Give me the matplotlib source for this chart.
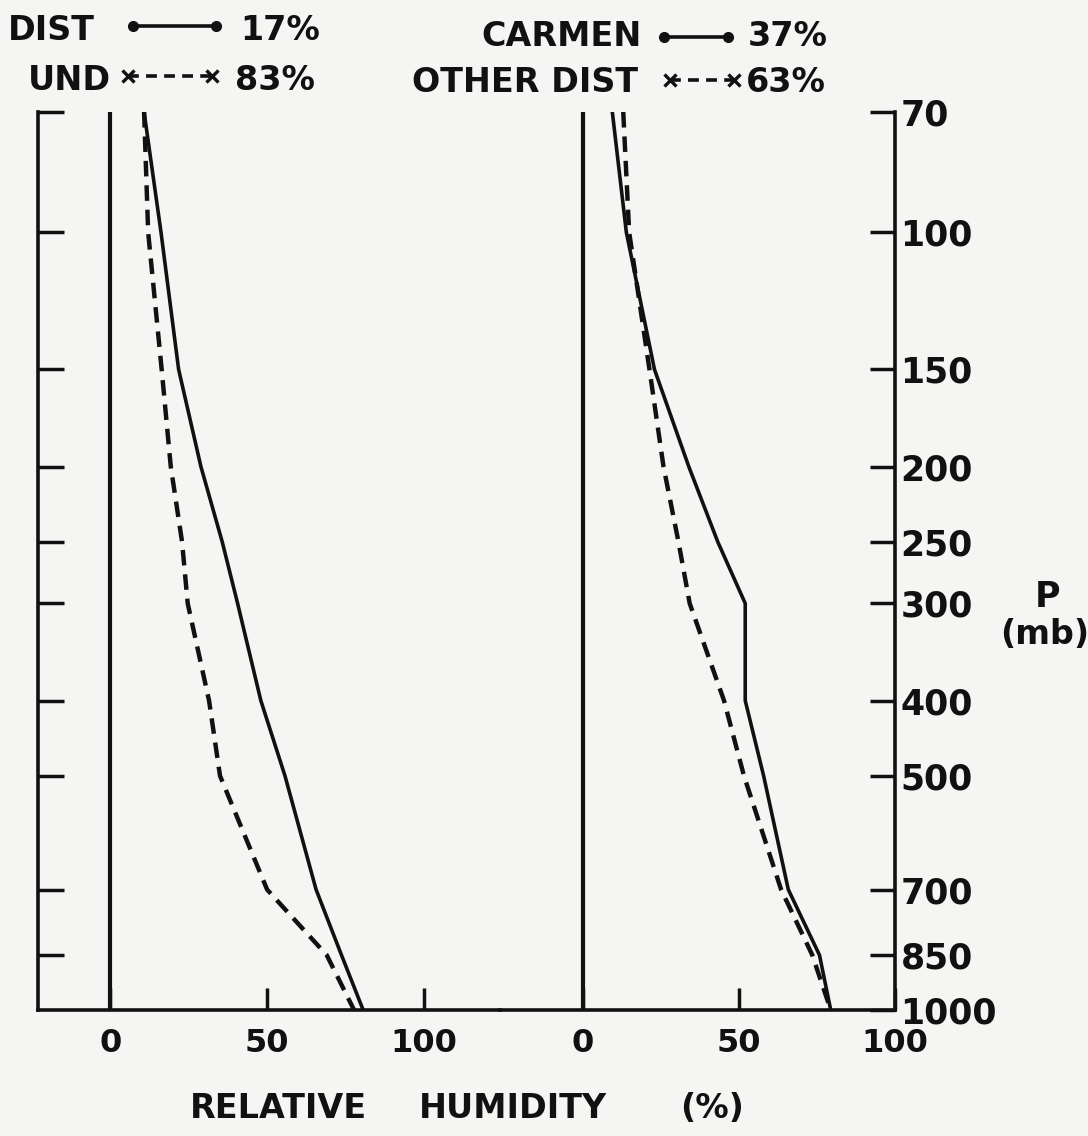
import numpy as np
import matplotlib.pyplot as plt
from matplotlib.lines import Line2D

# pressure levels (mb) and mean relative humidity (%)
levels = [70, 100, 150, 200, 250, 300, 400, 500, 700, 850, 1000]
level_labels = ['70', '100', '150', '200', '250', '300', '400', '500', '700', '850', '1000']
dist_rh = [10.8, 16.2, 21.8, 28.9, 35.7, 40.6, 48.0, 55.7, 65.6, 73.7, 80.6]
und_rh = [10.8, 12.1, 16.4, 19.3, 22.9, 24.7, 31.5, 35.0, 50.0, 69.0, 77.7]
carmen_rh = [9.4, 13.9, 22.9, 33.9, 43.2, 52.0, 52.0, 57.9, 65.8, 75.8, 79.4]
other_rh = [12.9, 14.8, 21.3, 25.8, 30.6, 34.2, 45.2, 51.6, 63.5, 73.5, 79.4]
rh_ticks = [0, 50, 100]

ink = '#111111'
paper = '#f5f5f3'
W, H = 1088, 1136

plt.rcParams['font.family'] = ['DejaVu Sans']
plt.rcParams['font.weight'] = 'bold'

fig = plt.figure(figsize=(W / 100, H / 100), dpi=100, facecolor=paper)


def fx(px):
    return px / W


def fy(py):
    return 1 - py / H


ax_l = fig.add_axes([fx(38), fy(1010), (500 - 38) / W, (1010 - 112) / H])
ax_r = fig.add_axes([fx(500), fy(1010), (895 - 500) / W, (1010 - 112) / H])

for ax in (ax_l, ax_r):
    ax.set_facecolor('none')
    ax.set_yscale('log')
    ax.set_ylim(1000, 70)
    ax.minorticks_off()
    ax.spines['top'].set_visible(False)
    for sp in ax.spines.values():
        sp.set_linewidth(2.6)
        sp.set_color(ink)
    ax.axvline(0, color=ink, lw=3.0)
    ax.set_xticks(rh_ticks)
    ax.set_xticklabels([str(t) for t in rh_ticks])
    ax.tick_params(axis='x', direction='in', length=16, width=2.5, pad=13,
                   labelsize=23, colors=ink)

ax_l.set_xlim(-23, 124.2)
ax_r.set_xlim(-26.6, 100)
ax_l.spines['right'].set_visible(False)
ax_r.spines['left'].set_visible(False)

ax_l.set_yticks(levels[:-1])
ax_l.tick_params(axis='y', direction='in', length=19, width=2.5, left=True,
                 right=False, labelleft=False, colors=ink)
ax_l.minorticks_off()

ax_r.yaxis.tick_right()
ax_r.set_yticks(levels)
ax_r.set_yticklabels(level_labels)
ax_r.tick_params(axis='y', direction='in', length=18, width=2.5, pad=4,
                 labelsize=25, colors=ink)
ax_r.minorticks_off()

ax_l.plot(dist_rh, levels, '-', color=ink, lw=2.6)
ax_l.plot(und_rh, levels, color=ink, lw=3.2, dashes=(3.5, 2))
ax_r.plot(carmen_rh, levels, '-', color=ink, lw=2.6)
ax_r.plot(other_rh, levels, color=ink, lw=3.2, dashes=(3.5, 2))


# hand-lettered style key at the top
def key_line(x0, x1, py, dashed):
    if dashed:
        ln = Line2D([fx(x0), fx(x1)], [fy(py), fy(py)], transform=fig.transFigure,
                    color=ink, lw=2.6, dashes=(3, 2), marker='x', markersize=8, mew=2.4)
    else:
        ln = Line2D([fx(x0), fx(x1)], [fy(py), fy(py)], transform=fig.transFigure,
                    color=ink, lw=2.6, marker='o', markersize=7)
    fig.add_artist(ln)


fs = 24
fig.text(fx(8), fy(30), 'DIST', fontsize=fs, va='center', ha='left', color=ink)
key_line(133, 216, 26, False)
fig.text(fx(240), fy(30), '17%', fontsize=fs, va='center', ha='left', color=ink)
fig.text(fx(28), fy(80), 'UND', fontsize=fs, va='center', ha='left', color=ink)
key_line(128, 212, 76, True)
fig.text(fx(235), fy(80), '83%', fontsize=fs, va='center', ha='left', color=ink)

fig.text(fx(642), fy(37), 'CARMEN', fontsize=fs, va='center', ha='right', color=ink)
key_line(664, 728, 37, False)
fig.text(fx(748), fy(37), '37%', fontsize=fs, va='center', ha='left', color=ink)
fig.text(fx(638), fy(83), 'OTHER DIST', fontsize=fs, va='center', ha='right', color=ink)
key_line(670, 734, 80, True)
fig.text(fx(746), fy(83), '63%', fontsize=fs, va='center', ha='left', color=ink)

fig.text(fx(1047), fy(597), 'P', fontsize=25, va='center', ha='center', color=ink)
fig.text(fx(1045), fy(634), '(mb)', fontsize=24, va='center', ha='center', color=ink)

fig.text(fx(278), fy(1108), 'RELATIVE', fontsize=fs, va='center', ha='center', color=ink)
fig.text(fx(513), fy(1108), 'HUMIDITY', fontsize=fs, va='center', ha='center', color=ink)
fig.text(fx(712), fy(1108), '(%)', fontsize=fs, va='center', ha='center', color=ink)

fig.savefig('out.png', dpi=100, facecolor=paper)
